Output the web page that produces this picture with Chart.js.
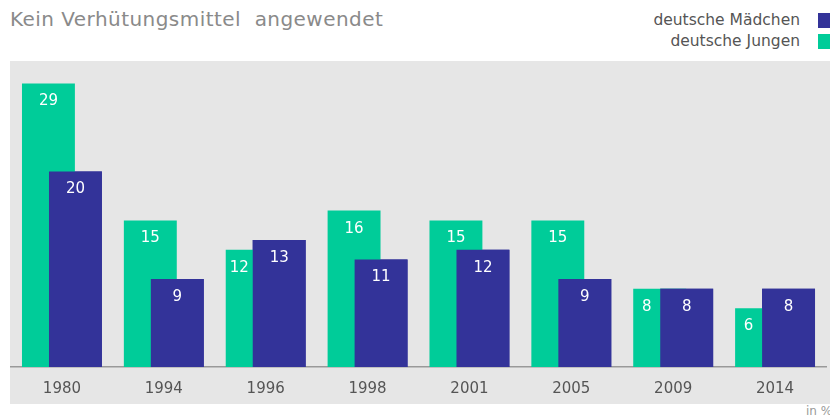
<!DOCTYPE html>
<html>
<head>
<meta charset="utf-8">
<script src="https://cdn.jsdelivr.net/npm/chart.js@4.4.1/dist/chart.umd.min.js"></script>
<style>
    body { margin: 0; width: 830px; height: 420px; overflow: hidden; background: #fff; position: relative; font-family: "DejaVu Sans", sans-serif; }
    #panel { position: absolute; left: 10px; top: 61px; width: 830px; height: 343px; background: #e6e6e6; }
    #title { position: absolute; left: 10px; top: 7px; font-size: 20px; letter-spacing: 0.45px; color: #8a8a8a; white-space: pre; }
    .leg { position: absolute; right: 30px; font-size: 15.5px; color: #555; line-height: 20px; white-space: nowrap; }
    .box { position: absolute; left: 818px; width: 15px; height: 15px; }
    #unit { position: absolute; left: 806px; top: 404px; font-size: 12px; color: #999; white-space: nowrap; }
    #wrap { position: absolute; left: 0; top: 0; width: 830px; height: 420px; }
</style>
</head>
<body>
<div id="panel"></div>
<div id="title">Kein Verhütungsmittel  angewendet</div>
<div class="leg" style="top:10px">deutsche Mädchen</div>
<div class="box" style="top:13px;background:#333399"></div>
<div class="leg" style="top:31px">deutsche Jungen</div>
<div class="box" style="top:34px;background:#00cc99"></div>
<div id="unit">in %</div>
<div id="wrap"><canvas id="chartCanvas"></canvas></div>
<script>
    const years = ['1980', '1994', '1996', '1998', '2001', '2005', '2009', '2014']
    const jungen = [29, 15, 12, 16, 15, 15, 8, 6]
    const maedchen = [20, 9, 13, 11, 12, 9, 8, 8]

    const green = '#00cc99'
    const blue = '#333399'

    // blue bars sit in front of the green ones, then white value labels
    const barLabels = {
        id: 'barLabels',
        afterDatasetsDraw(chart) {
            chart.getDatasetMeta(1).controller.draw()

            var ctx = chart.ctx
            var g = chart.getDatasetMeta(0).data
            var b = chart.getDatasetMeta(1).data
            ctx.save()
            ctx.fillStyle = '#fff'
            ctx.font = '15px "DejaVu Sans"'
            ctx.textAlign = 'center'
            ctx.textBaseline = 'middle'
            g.forEach(function (bar, i) {
                var x = bar.x
                if (jungen[i] <= maedchen[i]) {
                    // only the left part of the green bar is visible
                    var left = bar.x - bar.width / 2
                    var blueLeft = b[i].x - b[i].width / 2
                    x = (left + blueLeft) / 2
                }
                ctx.fillText(jungen[i], x, bar.y + 18)
            })
            b.forEach(function (bar, i) {
                ctx.fillText(maedchen[i], bar.x, bar.y + 18)
            })
            ctx.restore()
        }
    }

    const ctx = document.getElementById('chartCanvas')
    new Chart(ctx, {
        type: 'bar',
        data: {
            labels: years,
            datasets: [
                { label: 'deutsche Jungen', data: jungen, backgroundColor: green },
                { label: 'deutsche Mädchen', data: maedchen, backgroundColor: blue }
            ]
        },
        options: {
            responsive: true,
            maintainAspectRatio: false,
            animation: false,
            events: [],
            categoryPercentage: 0.53,
            barPercentage: 1.96,
            layout: { padding: { left: 11, right: 4, top: 64, bottom: 9 } },
            plugins: { legend: { display: false }, tooltip: { enabled: false } },
            scales: {
                x: {
                    grid: { display: false, drawTicks: false },
                    border: { display: true, color: '#999', width: 1.5 },
                    ticks: { color: '#555', font: { family: 'DejaVu Sans', size: 15 }, padding: 13 }
                },
                y: { display: false, min: 0, max: 31 }
            }
        },
        plugins: [barLabels]
    })
</script>
</body>
</html>
